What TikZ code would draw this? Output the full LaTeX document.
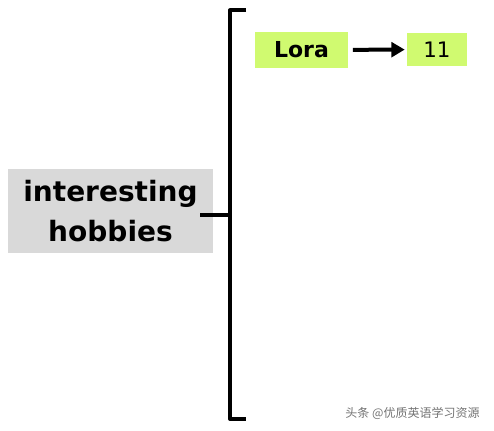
\documentclass[tikz,border=0pt]{standalone}
\usepackage{fontspec}
\setmainfont{DejaVu Sans}
\newfontfamily\cjk{Noto Sans CJK SC}
\usetikzlibrary{calc,arrows.meta}
\definecolor{lime}{RGB}{208,250,112}
\definecolor{greybox}{RGB}{217,217,217}
\tikzstyle{box}=[rectangle,inner sep=0pt, anchor = center]
\tikzstyle{annot} = [align=center]
\tikzstyle{brace} = [line width=3pt, line join=round]
\begin{document}
\begin{tikzpicture}[x=0.75pt, y=-0.75pt]
	\useasboundingbox (0,0) rectangle (494,431);

	\node[box, annot, fill=greybox, minimum width=153.75pt, minimum height=63pt,
		font=\fontsize{21}{30}\selectfont\bfseries](hobbies) at (110.5,211) {interesting\\hobbies};
	\node[box, fill=lime, minimum width=69.75pt, minimum height=27pt,
		font=\fontsize{16.5}{20}\selectfont\bfseries](lora) at (301.5,50) {Lora};
	\node[box, fill=lime, minimum width=45pt, minimum height=24.75pt,
		font=\fontsize{16}{20}\selectfont](eleven) at (437,49.5) {11};

	\coordinate (stem) at (200,215);
	\coordinate (mid) at (230,215);

	\draw[brace] (246,10.5) -- (230,10.5) -- (230,419) -- (246,419);
	\draw[brace] (stem) -- (mid);
	\draw[line width=3pt, -{Triangle[length=10pt,width=11pt]}, shorten <=3.5pt, shorten >=1.5pt] (lora) -- (eleven);

	\node[annot, text=black!55, font=\cjk\fontsize{9}{10}\selectfont](mark) at (412.5,413) {头条 @优质英语学习资源};
\end{tikzpicture}
\end{document}
